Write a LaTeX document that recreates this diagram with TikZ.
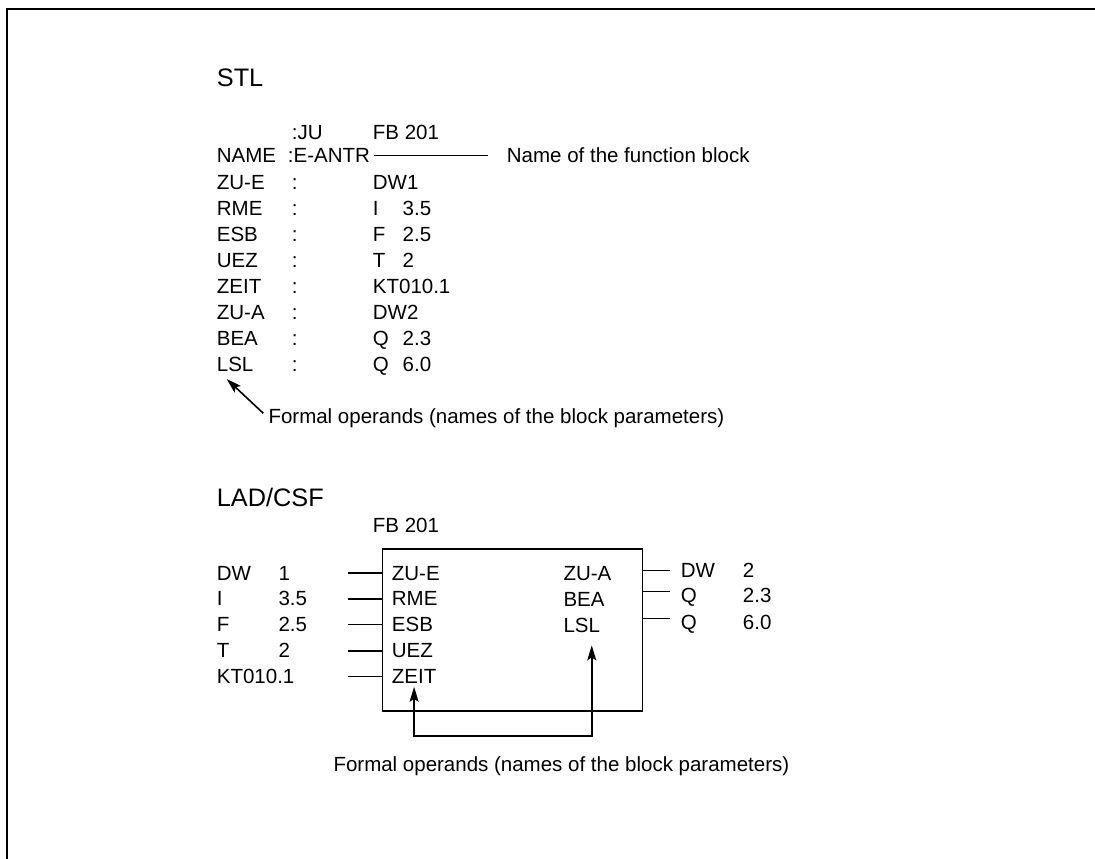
\documentclass[tikz,border=0pt]{standalone}
\usepackage{fontspec}
\setmainfont{Liberation Sans}
\usetikzlibrary{arrows.meta}
\begin{document}
\begin{tikzpicture}[x=1pt,y=-1pt,
  txt/.style={anchor=base west, inner sep=0pt, font=\fontsize{20.5pt}{24pt}\selectfont},
  head/.style={anchor=base west, inner sep=0pt, font=\fontsize{25.3pt}{30pt}\selectfont},
  thinline/.style={line width=1pt},
  stub/.style={line width=1.5pt},
  frame/.style={line width=2pt},
  arr/.style={line width=1.6pt, -{Stealth[length=15pt,width=9pt,inset=3pt]}},
]
\useasboundingbox (0,0) rectangle (1095,859);
% frame
\coordinate (fbl) at (6.5,859);
\coordinate (ftl) at (6.5,9.3);
\coordinate (ftr) at (1095,9.3);
\draw[frame] (fbl) -- (ftl) -- (ftr);

% ---------------- STL ----------------
\node[head] (stl) at (216.7,86) {STL};
\node[txt] (ju) at (291.7,139) {:JU};
\node[txt] (fbstl) at (372.7,139) {FB 201};
\node[txt] (name) at (216.7,162.7) {NAME};
\node[txt] (eantr) at (287.7,162.7) {:E-ANTR};
\node[txt] (nameof) at (506.7,162.7) {Name of the function block};
\draw[thinline] ([xshift=4pt]eantr.east) -- ([xshift=-18.5pt]nameof.west |- eantr.east);

\foreach \lab/\v/\w [count=\i from 0] in {ZU-E/DW1/, RME/I/3.5, ESB/F/2.5, UEZ/T/2, ZEIT/KT010.1/, ZU-A/DW2/, BEA/Q/2.3, LSL/Q/6.0} {
  \pgfmathsetmacro\yy{189+26*\i}
  \node[txt] (sl\i) at (216.7,\yy) {\lab};
  \node[txt] (sc\i) at (291.7,\yy) {:};
  \node[txt] (sv\i) at (372.7,\yy) {\v};
  \node[txt] (sw\i) at (402.5,\yy) {\w};
}
\node[txt] (formal1) at (268.3,423) {Formal operands (names of the block parameters)};
\coordinate (lsltip) at ([xshift=10pt,yshift=-8pt]sl7.base west);
\coordinate (ftail) at ([xshift=-5pt,yshift=9.7pt]formal1.base west);
\draw[arr] (ftail) -- (lsltip);

% ---------------- LAD/CSF ----------------
\node[head] (lad) at (216.7,506.7) {LAD/CSF};
\node[txt] (fb) at (372.7,532.3) {FB 201};
\node[draw, line width=1.7pt, anchor=north west, inner sep=0pt,
      minimum width=260.2pt, minimum height=161.7pt] (box) at (381.5,548.3) {};

\foreach \a/\b/\c [count=\i from 0] in {DW/1/ZU-E, I/3.5/RME, F/2.5/ESB, T/2/UEZ, KT010.1//ZEIT} {
  \pgfmathsetmacro\yy{580+25.9*\i}
  \node[txt] (la\i) at (216.7,\yy) {\a};
  \node[txt] (lb\i) at (278.3,\yy) {\b};
  \node[txt] (in\i) at (391.7,\yy) {\c};
  \draw[stub] (in\i.west -| box.west) -- ++(-34,0);
}

\foreach \c/\yy [count=\i from 0] in {ZU-A/580, BEA/606, LSL/632} {
  \node[txt] (ri\i) at (563.3,\yy) {\c};
}
\foreach \a/\b/\yy/\dy [count=\i from 0] in {DW/2/577.7/7, Q/2.3/602.7/11, Q/6.0/629.3/11} {
  \node[txt] (rl\i) at (680.7,\yy) {\a};
  \node[txt] (rn\i) at (742.7,\yy) {\b};
  \coordinate (r\i) at ([yshift=\dy pt]rl\i.base west);
  \draw[stub] (r\i -| box.east) -- ([xshift=-10.7pt]r\i);
}

\coordinate (t1) at ([yshift=-3pt]in4.south);
\coordinate (t2) at ([xshift=10pt,yshift=-13pt]ri2.south);
\coordinate (lb) at (0,735.7);
\draw[line width=1.6pt, {Stealth[length=15pt,width=9pt,inset=3pt]}-{Stealth[length=15pt,width=9pt,inset=3pt]}]
  (t1) -- (t1 |- lb) -- (t2 |- lb) -- (t2);

\node[txt] (formal2) at (333.3,771.7) {Formal operands (names of the block parameters)};
\end{tikzpicture}
\end{document}
